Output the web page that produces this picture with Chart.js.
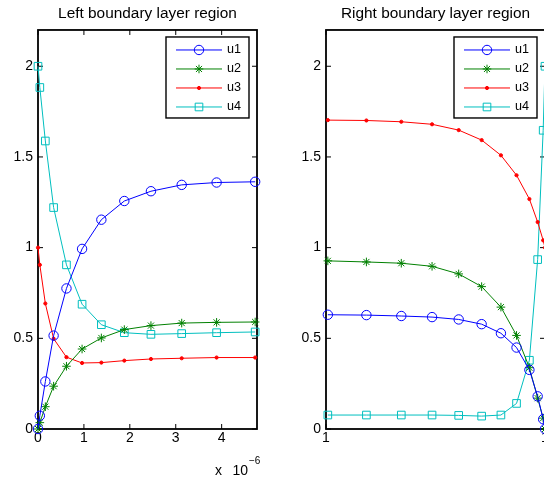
<!DOCTYPE html>
<html>
<head>
<meta charset="utf-8">
<script src="https://cdn.jsdelivr.net/npm/chart.js@4"></script>
<style>
  html, body { margin: 0; padding: 0; background: #fff; overflow: hidden; width: 544px; height: 480px; }
  canvas { position: absolute; top: 0; }
  #leftLayer { left: 0; }
  #rightLayer { left: 272px; }
</style>
</head>
<body>
<canvas id="leftLayer" width="272" height="480"></canvas>
<canvas id="rightLayer" width="280" height="480"></canvas>
<script>
// Mesh nodes inside each boundary layer, as distance from the wall (units of 1e-6)
const X_NODES = [0, 0.04, 0.16, 0.34, 0.62, 0.96, 1.38, 1.88, 2.46, 3.13, 3.89, 4.73];
const X_SPAN = 4.77;

// Left layer (wall at x = 0)
const u1Left = [0.0, 0.073, 0.262, 0.515, 0.775, 0.993, 1.154, 1.257, 1.311, 1.346, 1.359, 1.363];
const u2Left = [0.0, 0.035, 0.123, 0.236, 0.346, 0.441, 0.502, 0.548, 0.570, 0.584, 0.588, 0.590];
const u3Left = [1.0, 0.905, 0.692, 0.498, 0.396, 0.364, 0.366, 0.377, 0.386, 0.390, 0.394, 0.394];
const u4Left = [2.0, 1.883, 1.588, 1.221, 0.905, 0.688, 0.575, 0.531, 0.522, 0.526, 0.531, 0.535];

// Right layer (wall at x = 1), same nodes measured back from x = 1
const u1Right = [0.0, 0.054, 0.180, 0.326, 0.449, 0.528, 0.578, 0.604, 0.617, 0.623, 0.628, 0.630];
const u2Right = [0.0, 0.060, 0.170, 0.338, 0.516, 0.672, 0.785, 0.855, 0.897, 0.914, 0.921, 0.927];
const u3Right = [1.0, 1.040, 1.141, 1.268, 1.399, 1.509, 1.593, 1.648, 1.680, 1.694, 1.701, 1.703];
const u4Right = [2.0, 1.647, 0.934, 0.379, 0.141, 0.077, 0.071, 0.075, 0.077, 0.077, 0.077, 0.077];

const SERIES_NAMES = ['u1', 'u2', 'u3', 'u4'];

// Axis ticks and their labels
const Y_TICKS = [0, 0.5, 1, 1.5, 2];
const Y_TICK_LABELS = ['0', '0.5', '1', '1.5', '2'];
const X_TICKS_LEFT = [0, 1, 2, 3, 4];
const X_TICK_LABELS_LEFT = ['0', '1', '2', '3', '4'];
const X_TICKS_RIGHT = [X_SPAN, 0];
const X_TICK_LABELS_RIGHT = ['1', '1'];

// Line / marker styles for u1..u4
const STYLES = [
  { color: '#0000ff', pointStyle: 'circle', radius: 4.7, fill: 'rgba(0,0,0,0)' },
  { color: '#008000', pointStyle: 'star',   radius: 4.3, fill: 'rgba(0,0,0,0)' },
  { color: '#ff0000', pointStyle: 'circle', radius: 1.6, fill: '#ff0000' },
  { color: '#00bfbf', pointStyle: 'rect',   radius: 5.4, fill: 'rgba(0,0,0,0)' }
];

const FONT = "'Liberation Sans', Arial, Helvetica, sans-serif";
const tickFont = { family: FONT, size: 14 };

function makeDatasets(series) {
  return series.map((vals, i) => ({
    label: SERIES_NAMES[i],
    data: X_NODES.map((x, k) => ({ x, y: vals[k] })),
    borderColor: STYLES[i].color,
    borderWidth: 1,
    pointStyle: STYLES[i].pointStyle,
    pointRadius: STYLES[i].radius,
    pointBorderColor: STYLES[i].color,
    pointBackgroundColor: STYLES[i].fill,
    pointBorderWidth: 1,
    tension: 0,
    fill: false,
    clip: false
  }));
}

// Box around the axes with short inward tick marks on all four sides
const framePlugin = {
  id: 'frame',
  beforeDatasetsDraw(chart) {
    const { ctx, chartArea: a, scales: { x, y } } = chart;
    const len = 5;
    ctx.save();
    ctx.strokeStyle = '#000';
    ctx.lineWidth = 1;
    ctx.beginPath();
    for (const t of x.ticks) {
      const px = x.getPixelForValue(t.value);
      ctx.moveTo(px, a.bottom); ctx.lineTo(px, a.bottom - len);
      ctx.moveTo(px, a.top); ctx.lineTo(px, a.top + len);
    }
    for (const t of y.ticks) {
      const py = y.getPixelForValue(t.value);
      ctx.moveTo(a.left, py); ctx.lineTo(a.left + len, py);
      ctx.moveTo(a.right, py); ctx.lineTo(a.right - len, py);
    }
    ctx.stroke();
    ctx.lineWidth = 1.8;
    ctx.strokeRect(a.left, a.top, a.right - a.left, a.bottom - a.top);
    ctx.restore();
  }
};

// Boxed legend in the upper-right corner of the plot, each entry a line with its marker
const boxLegendPlugin = {
  id: 'boxLegend',
  afterDatasetsDraw(chart) {
    const { ctx, chartArea: a } = chart;
    const w = 83, h = 81;
    const left = a.right - 8 - w, top = a.top + 7;
    ctx.save();
    ctx.fillStyle = '#fff';
    ctx.fillRect(left, top, w, h);
    ctx.strokeStyle = '#000';
    ctx.lineWidth = 1.4;
    ctx.strokeRect(left, top, w, h);
    ctx.font = '12.6px ' + FONT;
    ctx.textBaseline = 'middle';
    ctx.textAlign = 'left';
    chart.data.datasets.forEach((ds, i) => {
      const cy = top + 13 + i * 19;
      ctx.strokeStyle = ds.borderColor;
      ctx.lineWidth = 1;
      ctx.beginPath();
      ctx.moveTo(left + 10, cy);
      ctx.lineTo(left + 56, cy);
      ctx.stroke();
      ctx.fillStyle = ds.pointBackgroundColor;
      ctx.strokeStyle = ds.pointBorderColor;
      Chart.helpers.drawPoint(ctx, {
        pointStyle: ds.pointStyle, radius: ds.pointRadius, borderWidth: 1, rotation: 0
      }, left + 33, cy);
      ctx.fillStyle = '#000';
      ctx.fillText(ds.label, left + 61, cy);
    });
    ctx.restore();
  }
};

// "x 10^-6" multiplier under the left x axis
const exponentPlugin = {
  id: 'exponent',
  afterDraw(chart) {
    const { ctx, chartArea: a } = chart;
    ctx.save();
    ctx.fillStyle = '#000';
    ctx.textBaseline = 'alphabetic';
    ctx.font = '14px ' + FONT;
    ctx.textAlign = 'left';
    ctx.fillText('x', a.right - 42, 475);
    ctx.textAlign = 'right';
    ctx.fillText('10', a.right - 9, 475);
    ctx.font = '10px ' + FONT;
    ctx.textAlign = 'left';
    ctx.fillText('\u22126', a.right - 8, 464);
    ctx.restore();
  }
};

function xAxis(ticks, labels, reverse) {
  return {
    type: 'linear', min: 0, max: X_SPAN, reverse,
    afterBuildTicks: s => { s.ticks = ticks.map(v => ({ value: v })); },
    afterFit: s => { s.height = 51; },
    grid: { display: false, drawTicks: false },
    border: { display: false },
    ticks: { color: '#000', font: tickFont, padding: 1, maxRotation: 0, minRotation: 0, autoSkip: false,
             callback: (v, i) => labels[i] }
  };
}

function yAxis(width) {
  return {
    type: 'linear', min: 0, max: 2.2,
    afterBuildTicks: s => { s.ticks = Y_TICKS.map(v => ({ value: v })); },
    afterFit: s => { s.width = width; },
    grid: { display: false, drawTicks: false },
    border: { display: false },
    ticks: { color: '#000', font: tickFont, padding: 5, autoSkip: false,
             callback: (v, i) => Y_TICK_LABELS[i] }
  };
}

function makeChart(id, title, series, xScale, yWidth, padRight, extraPlugins) {
  return new Chart(document.getElementById(id), {
    type: 'line',
    data: { datasets: makeDatasets(series) },
    options: {
      responsive: false,
      devicePixelRatio: 1,
      animation: false,
      events: [],
      layout: { padding: { left: 0, right: padRight, top: 0, bottom: 0 } },
      scales: { x: xScale, y: yAxis(yWidth) },
      plugins: {
        legend: { display: false },
        tooltip: { enabled: false },
        title: {
          display: true, text: title, fullSize: false, color: '#000',
          font: { family: FONT, size: 15.4, weight: 'normal', lineHeight: 1.2 },
          padding: { top: 4.8, bottom: 6.7 }
        }
      }
    },
    plugins: [framePlugin, boxLegendPlugin].concat(extraPlugins)
  });
}

makeChart('leftLayer', 'Left boundary layer region',
  [u1Left, u2Left, u3Left, u4Left],
  xAxis(X_TICKS_LEFT, X_TICK_LABELS_LEFT, false), 38, 15, [exponentPlugin]);

makeChart('rightLayer', 'Right boundary layer region',
  [u1Right, u2Right, u3Right, u4Right],
  xAxis(X_TICKS_RIGHT, X_TICK_LABELS_RIGHT, true), 54, 7, []);
</script>
</body>
</html>
